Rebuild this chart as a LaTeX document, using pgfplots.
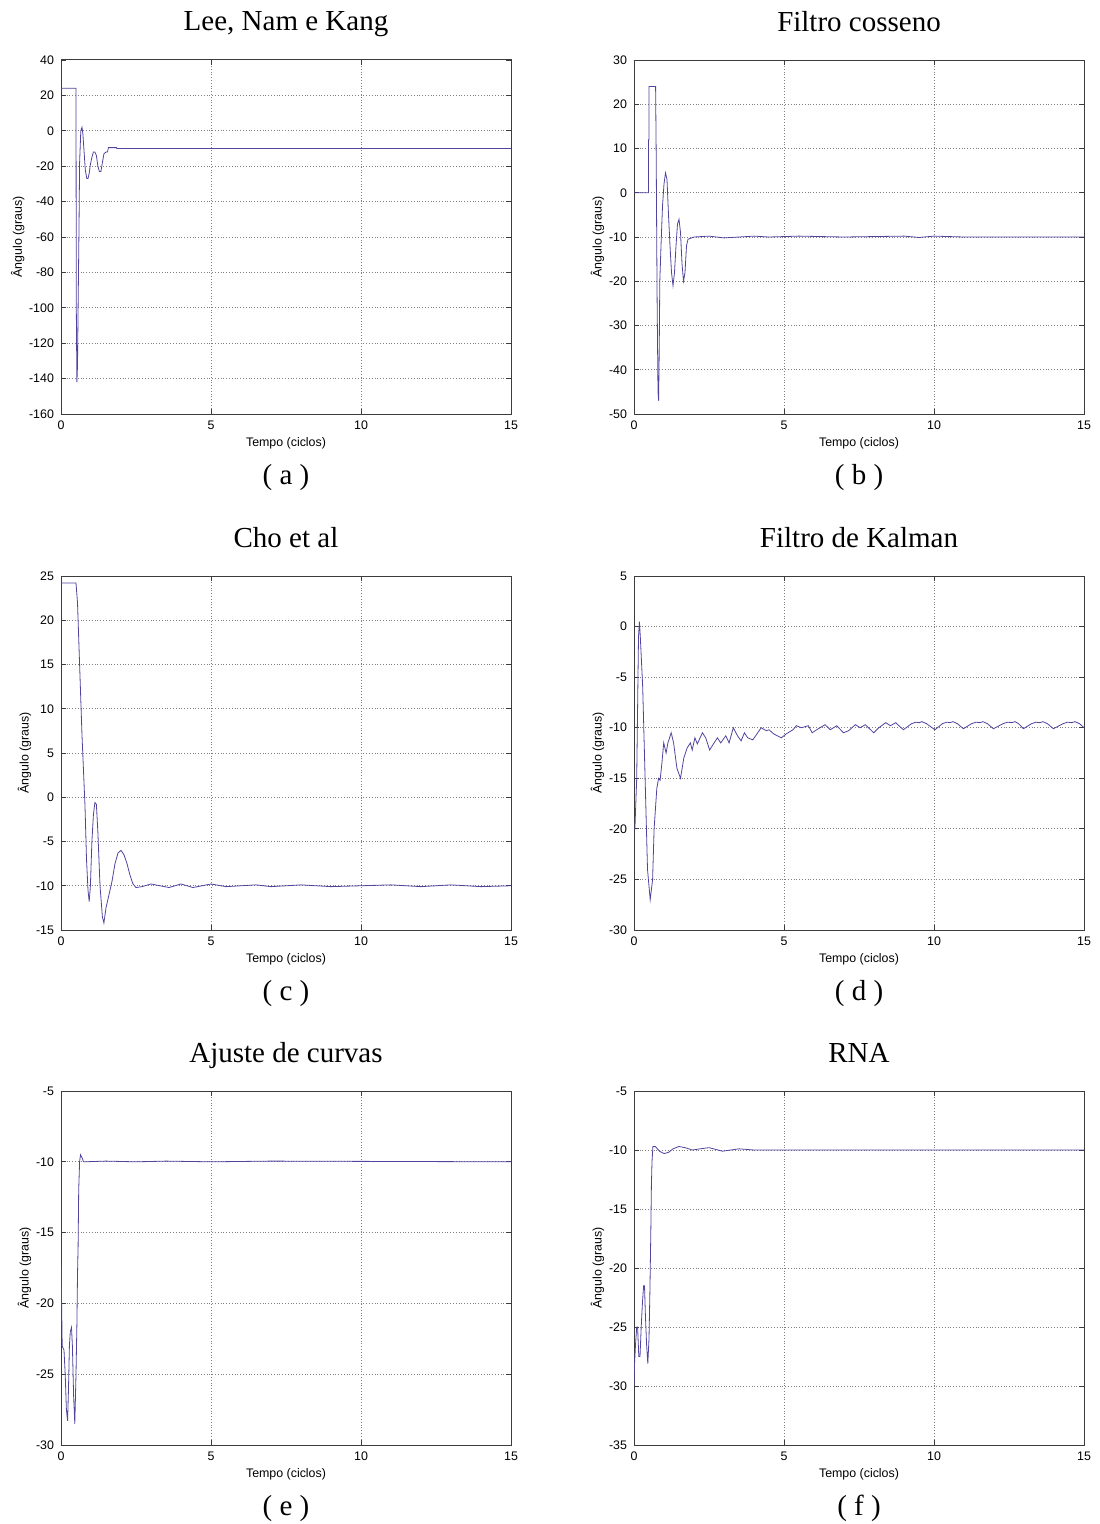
\documentclass[border=0pt]{standalone}
\usepackage{pgfplots}
\pgfplotsset{compat=1.18}
\usepackage{fontspec}
\setmainfont{Liberation Serif}
\newfontfamily\arial{Liberation Sans}

\definecolor{curva}{RGB}{80,68,158}
\definecolor{moldura}{RGB}{60,60,60}

\pgfplotsset{
  mat/.style={
    scale only axis,
    width=225pt, height=177pt,
    anchor=south west,
    clip mode=individual,
    xmin=0, xmax=15,
    xtick={0,5,10,15},
    grid=major,
    grid style={densely dotted, gray, line width=0.5pt},
    tick align=inside,
    tick pos=both,
    major tick length=2.5pt,
    axis line style={line width=0.5pt, moldura},
    tick style={moldura, line width=0.4pt},
    /pgf/number format/assume math mode=true,
    ticklabel style={font=\arial\fontsize{6.2}{7}\selectfont},
    xlabel={Tempo (ciclos)},
    ylabel={Ângulo (graus)},
    label style={font=\arial\fontsize{6.2}{7}\selectfont},
    xlabel style={at={(axis description cs:0.5,0)}, anchor=center, yshift=-14.5pt},
    ylabel style={yshift=-4.5pt},
    title style={font=\fontsize{14.5}{16}\selectfont, at={(axis description cs:0.5,1)}, anchor=base, yshift=8.5pt},
    cycle list={{curva, line width=0.9pt}},
    no markers,
  }
}
\newcommand{\legenda}[1]{\node[font=\fontsize{14.5}{16}\selectfont, anchor=base] at (rel axis cs:0.5,0) [yshift=-35pt] {( #1 )};}

\begin{document}
\begin{tikzpicture}
\useasboundingbox (0,0) rectangle (549.5pt,-762pt);

% (a)
\begin{axis}[mat, at={(30.5pt,-207pt)}, ymin=-160, ymax=40, ytick={-160,-140,...,40},
  title={Lee, Nam e Kang}]
\addplot coordinates {
(0,24)(0.5,24)(0.51,-100)(0.53,-142)(0.55,-133)(0.57,-100)(0.6,-55)(0.62,-18)(0.66,0)(0.7,2)(0.73,-2)
(0.77,-12)(0.81,-22)(0.86,-27)(0.9,-27)(0.94,-24)(0.98,-19)(1.03,-15)(1.08,-12)(1.13,-12)(1.18,-14)
(1.23,-20)(1.28,-23)(1.33,-23)(1.38,-18)(1.43,-13)(1.5,-12)(1.55,-12)(1.58,-9.5)(1.85,-9.5)(1.86,-10)(15,-10)
};
\legenda{a}
\end{axis}

% (b)
\begin{axis}[mat, at={(317pt,-207pt)}, ymin=-50, ymax=30, ytick={-50,-40,...,30},
  title={Filtro cosseno}]
\addplot coordinates {
(0,0)(0.48,0)(0.48,12)(0.5,12)(0.5,24)(0.72,24)(0.74,8)(0.77,-24)(0.8,-45)(0.82,-47)(0.84,-36)(0.86,-20)
(0.9,-12)(0.95,-3)(1.0,2)(1.05,4.5)(1.1,3)(1.15,-5)(1.2,-12)(1.25,-18)(1.3,-21)(1.35,-18)(1.4,-12)
(1.45,-7)(1.5,-6)(1.55,-9)(1.6,-16)(1.65,-20)(1.7,-18)(1.75,-12)(1.8,-10.5)(2.0,-10)(2.5,-9.8)(3.0,-10.2)
(3.5,-10)(4.0,-9.8)(4.5,-10)(5.5,-9.8)(7,-10)(9,-9.8)(9.5,-10.1)(10,-9.8)(11,-10)(15,-10)
};
\legenda{b}
\end{axis}

% (c)
\begin{axis}[mat, at={(30.5pt,-465pt)}, ymin=-15, ymax=25, ytick={-15,-10,...,25},
  title={Cho et al}]
\addplot coordinates {
(0,24.2)(0.5,24.2)(0.55,22)(0.6,17)(0.65,12)(0.7,7)(0.75,3)(0.8,-1)(0.85,-7)(0.9,-10.5)(0.94,-11.8)
(0.98,-10)(1.03,-5)(1.08,-2)(1.13,-0.6)(1.18,-0.8)(1.23,-4)(1.3,-10)(1.38,-13.5)(1.43,-14.2)(1.5,-12.5)
(1.6,-11)(1.7,-9.5)(1.8,-7.5)(1.9,-6.3)(2.0,-6)(2.1,-6.5)(2.2,-7.5)(2.3,-8.8)(2.4,-9.8)(2.5,-10.2)
(2.7,-10.1)(3.0,-9.8)(3.3,-10)(3.6,-10.2)(4.0,-9.8)(4.4,-10.2)(5.0,-9.8)(5.5,-10.1)(6,-10)(6.5,-9.9)
(7,-10.1)(8,-9.9)(9,-10.1)(10,-10)(11,-9.9)(12,-10.1)(13,-9.9)(14,-10.1)(15,-10)
};
\legenda{c}
\end{axis}

% (d)
\begin{axis}[mat, at={(317pt,-465pt)}, ymin=-30, ymax=5, ytick={-30,-25,...,5},
  title={Filtro de Kalman}]
\addplot coordinates {
(0,-20)(0.03,-20)(0.09,-15)(0.12,-8)(0.15,-1)(0.18,0.5)(0.21,-1)(0.29,-6)(0.37,-15)(0.45,-24)(0.54,-27)
(0.62,-25)(0.67,-20)(0.76,-16)(0.82,-15)(0.87,-15.2)(0.93,-13.5)(0.99,-11.5)(1.07,-12.5)(1.13,-11.5)
(1.24,-10.5)(1.32,-11.5)(1.43,-14)(1.55,-15)(1.66,-13)(1.77,-12)(1.88,-11.5)(1.94,-12.2)(2.03,-11)
(2.11,-11.6)(2.28,-10.5)(2.39,-11)(2.52,-12.2)(2.67,-11.5)(2.78,-11)(2.89,-11.5)(3.06,-10.8)(3.17,-11.5)
(3.31,-10)(3.45,-10.8)(3.57,-11.3)(3.68,-10.5)(3.79,-11)(3.96,-11.2)(4.24,-10)(4.41,-10.3)(4.5,-10.2)
(4.65,-10.6)(4.91,-11)(5.08,-10.6)(5.3,-10.2)(5.41,-9.8)(5.58,-10)(5.81,-9.8)(5.94,-10.5)(6.09,-10.2)
(6.37,-9.7)(6.54,-10.2)(6.76,-9.8)(6.98,-10.5)(7.15,-10.3)(7.38,-9.7)(7.54,-10)(7.71,-9.7)(7.99,-10.5)
(8.16,-10)(8.39,-9.5)(8.55,-9.8)(8.72,-9.5)(8.98,-10.2)
(9.25,-9.6)(9.4,-9.45)(9.5,-9.5)(9.6,-9.4)(9.75,-9.6)(10.03,-10.2)
(10.28,-9.6)(10.43,-9.45)(10.53,-9.5)(10.63,-9.4)(10.78,-9.6)(10.98,-10.1)
(11.25,-9.6)(11.4,-9.45)(11.53,-9.5)(11.63,-9.4)(11.78,-9.6)(11.98,-10.1)
(12.3,-9.6)(12.45,-9.45)(12.59,-9.5)(12.7,-9.4)(12.82,-9.6)(12.98,-10.1)
(13.25,-9.6)(13.4,-9.45)(13.53,-9.5)(13.63,-9.4)(13.78,-9.6)(13.98,-10.1)
(14.3,-9.6)(14.45,-9.45)(14.59,-9.5)(14.7,-9.4)(14.85,-9.6)(15,-10)
};
\legenda{d}
\end{axis}

% (e)
\begin{axis}[mat, at={(30.5pt,-722.5pt)}, ymin=-30, ymax=-5, ytick={-30,-25,...,-5},
  title={Ajuste de curvas}]
\addplot coordinates {
(0,-17.1)(0.02,-20)(0.04,-23)(0.1,-23.3)(0.14,-25)(0.18,-27.5)(0.22,-28.3)(0.25,-26)(0.28,-23)(0.31,-22)
(0.35,-21.7)(0.38,-23)(0.42,-26.5)(0.46,-28.5)(0.5,-25)(0.53,-21.5)(0.55,-18)(0.57,-16)(0.59,-12)
(0.62,-10)(0.65,-9.5)(0.7,-9.7)(0.75,-10)(1.5,-9.95)(2.5,-10)(3.5,-9.95)(5,-10)(7,-9.95)(15,-10)
};
\legenda{e}
\end{axis}

% (f)
\begin{axis}[mat, at={(317pt,-722.5pt)}, ymin=-35, ymax=-5, ytick={-35,-30,...,-5},
  title={RNA}]
\addplot coordinates {
(0,-30)(0.02,-28)(0.05,-26.5)(0.09,-25)(0.12,-25)(0.16,-27.5)(0.2,-27.5)(0.24,-25)(0.28,-23)(0.32,-21.5)
(0.35,-21.5)(0.38,-24)(0.42,-26.5)(0.46,-28.1)(0.5,-26)(0.53,-22)(0.56,-17)(0.58,-13)(0.6,-11)(0.63,-9.7)
(0.71,-9.7)(0.85,-10.1)(1.0,-10.3)(1.15,-10.2)(1.3,-9.9)(1.5,-9.7)(1.7,-9.8)(1.95,-10)(2.2,-9.9)
(2.5,-9.8)(2.95,-10.1)(3.5,-9.9)(4,-10)(15,-10)
};
\legenda{f}
\end{axis}
\end{tikzpicture}
\end{document}
